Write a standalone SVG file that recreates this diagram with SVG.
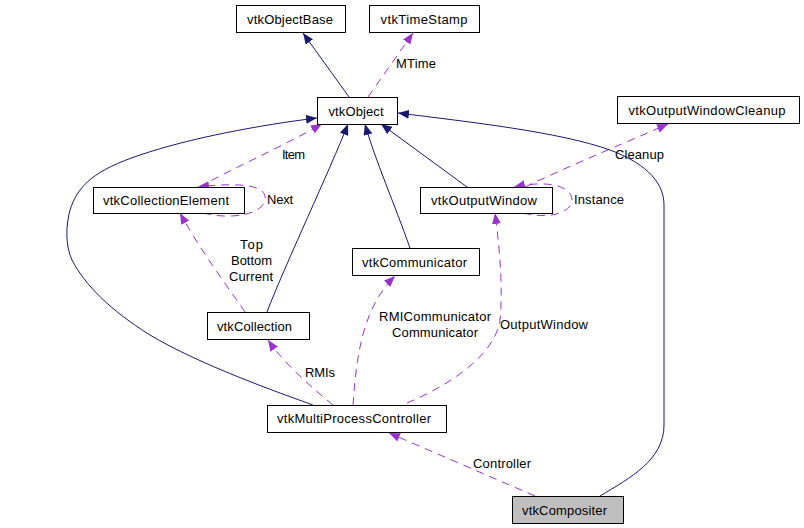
<svg xmlns="http://www.w3.org/2000/svg" width="804" height="528" viewBox="0 0 804 528">
<style>
.n rect{fill:#fff;stroke:#000;stroke-width:1}
.n text{font-family:"Liberation Sans",Arial,sans-serif;font-size:13px;text-anchor:middle;fill:#000}
.lbl{font-family:"Liberation Sans",Arial,sans-serif;font-size:13px;fill:#000}
.inh{fill:none;stroke:#191970;stroke-width:1;marker-end:url(#an)}
.use{fill:none;stroke:#9a32cd;stroke-width:1;stroke-dasharray:8,6;marker-end:url(#ap)}
</style>
<defs>
<marker id="an" viewBox="0 0 11 9" refX="11" refY="4.5" markerWidth="11" markerHeight="9" markerUnits="userSpaceOnUse" orient="auto"><path d="M0,0 L11,4.5 L0,9 Z" fill="#191970" stroke="none"/></marker>
<marker id="ap" viewBox="0 0 11 9" refX="11" refY="4.5" markerWidth="11" markerHeight="9" markerUnits="userSpaceOnUse" orient="auto"><path d="M0,0 L11,4.5 L0,9 Z" fill="#9a32cd" stroke="none"/></marker>
</defs>
<rect width="804" height="528" fill="#fff"/>
<g id="edges">
<path class="inh" d="M349,97 L303,33"/>
<path class="use" d="M368,97 L413,33"/>
<path class="use" d="M199,187 C230,170 285,145 322,124"/>
<path class="use" d="M203,213 C230,220 262,215 265,200 C268,185 240,182 198,187"/>
<path class="use" d="M245,312 C230,290 200,250 180,213"/>
<path class="inh" d="M267,312 C285,265 330,170 348,124"/>
<path class="inh" d="M410,248 C395,205 375,160 365,124"/>
<path class="inh" d="M467,187 L381,124"/>
<path class="use" d="M525,187 C560,170 620,145 668,124"/>
<path class="use" d="M523,213 C550,220 572,212 572,200 C572,185 545,180 514,187"/>
<path class="inh" d="M313,405 C280,393 200,365 150,335 C110,310 85,285 72,260 C65,245 66,225 70,210 C78,185 95,170 140,155 C190,138 260,125 317,118"/>
<path class="inh" d="M600,496 C630,478 664,460 664,425 L664,205 C664,185 650,165 610,150 C560,132 470,122 398,113"/>
<path class="use" d="M333,405 C315,390 285,365 268,340"/>
<path class="use" d="M353,405 C356,365 360,310 395,276"/>
<path class="use" d="M407,403 C450,385 495,355 500,320 C503,290 500,250 495,213"/>
<path class="use" d="M535,496 L389,433"/>
<text class="lbl" x="396" y="68" textLength="40" lengthAdjust="spacing">MTime</text>
<text class="lbl" x="282" y="159" textLength="23" lengthAdjust="spacing">Item</text>
<text class="lbl" x="267" y="204" textLength="26" lengthAdjust="spacing">Next</text>
<text class="lbl" x="240" y="249" textLength="23" lengthAdjust="spacing">Top</text>
<text class="lbl" x="231" y="265" textLength="41" lengthAdjust="spacing">Bottom</text>
<text class="lbl" x="229" y="281" textLength="44" lengthAdjust="spacing">Current</text>
<text class="lbl" x="615" y="159" textLength="49" lengthAdjust="spacing">Cleanup</text>
<text class="lbl" x="574" y="204" textLength="50" lengthAdjust="spacing">Instance</text>
<text class="lbl" x="305" y="377" textLength="30" lengthAdjust="spacing">RMIs</text>
<text class="lbl" x="379" y="321" textLength="112" lengthAdjust="spacing">RMICommunicator</text>
<text class="lbl" x="392" y="337" textLength="86" lengthAdjust="spacing">Communicator</text>
<text class="lbl" x="500" y="329" textLength="88" lengthAdjust="spacing">OutputWindow</text>
<text class="lbl" x="473" y="468" textLength="58" lengthAdjust="spacing">Controller</text>
</g>
<g id="vtkObjectBase" class="n"><rect x="236.5" y="5.5" width="109" height="27"/><text x="290" y="23.5" textLength="86" lengthAdjust="spacing">vtkObjectBase</text></g>
<g id="vtkTimeStamp" class="n"><rect x="369.5" y="5.5" width="110" height="27"/><text x="424" y="23.5" textLength="87" lengthAdjust="spacing">vtkTimeStamp</text></g>
<g id="vtkObject" class="n"><rect x="317.5" y="97.5" width="80" height="27"/><text x="356" y="115.5" textLength="55" lengthAdjust="spacing">vtkObject</text></g>
<g id="vtkOutputWindowCleanup" class="n"><rect x="617.5" y="96.5" width="182" height="27"/><text x="707" y="114.5" textLength="157" lengthAdjust="spacing">vtkOutputWindowCleanup</text></g>
<g id="vtkCollectionElement" class="n"><rect x="93.5" y="187.5" width="151" height="26"/><text x="166" y="205" textLength="126" lengthAdjust="spacing">vtkCollectionElement</text></g>
<g id="vtkOutputWindow" class="n"><rect x="420.5" y="187.5" width="132" height="26"/><text x="484" y="205" textLength="106" lengthAdjust="spacing">vtkOutputWindow</text></g>
<g id="vtkCommunicator" class="n"><rect x="352.5" y="248.5" width="127" height="27"/><text x="414.5" y="266.5" textLength="105" lengthAdjust="spacing">vtkCommunicator</text></g>
<g id="vtkCollection" class="n"><rect x="207.5" y="312.5" width="102" height="27"/><text x="254.5" y="330.5" textLength="75" lengthAdjust="spacing">vtkCollection</text></g>
<g id="vtkMultiProcessController" class="n"><rect x="267.5" y="405.5" width="179" height="27"/><text x="354" y="423" textLength="154" lengthAdjust="spacing">vtkMultiProcessController</text></g>
<g id="vtkCompositer" class="n"><rect x="512.5" y="496.5" width="111" height="27" style="fill:#bfbfbf"/><text x="564.5" y="514.5" textLength="85" lengthAdjust="spacing">vtkCompositer</text></g>
</svg>
